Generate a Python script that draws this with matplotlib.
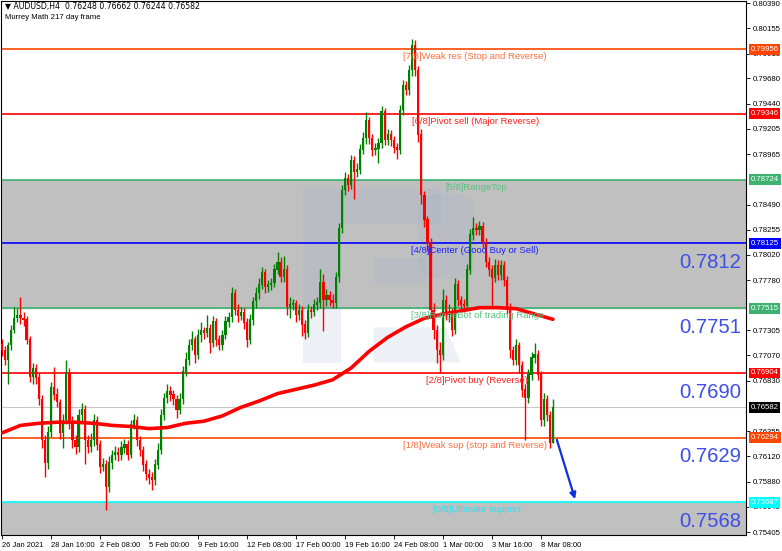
import numpy as np
import matplotlib
matplotlib.use('Agg')
from matplotlib import pyplot as plt
from matplotlib import transforms
from matplotlib.patches import Rectangle, Polygon, FancyBboxPatch

plt.rcParams['font.family'] = ['Liberation Sans', 'DejaVu Sans']

# AUDUSD H4 candles, 26 Jan 2021 .. 9 Mar 2021
first_open = 0.7718
closes = [
    0.7712, 0.7703, 0.7717, 0.7731, 0.7742, 0.7745, 0.7742, 0.7741, 0.7722, 0.7687,
    0.7695, 0.7686, 0.7666, 0.7627, 0.7606, 0.7635, 0.7677, 0.7670, 0.7663, 0.7634,
    0.7646, 0.7691, 0.7644, 0.7627, 0.7621, 0.7651, 0.7656, 0.7627, 0.7621, 0.7627,
    0.7646, 0.7623, 0.7602, 0.7604, 0.7583, 0.7606, 0.7613, 0.7616, 0.7613, 0.7620,
    0.7623, 0.7613, 0.7642, 0.7646, 0.7627, 0.7618, 0.7604, 0.7595, 0.7592, 0.7590,
    0.7604, 0.7618, 0.7651, 0.7667, 0.7673, 0.7670, 0.7666, 0.7656, 0.7666, 0.7692,
    0.7703, 0.7717, 0.7722, 0.7708, 0.7726, 0.7731, 0.7728, 0.7733, 0.7719, 0.7739,
    0.7722, 0.7717, 0.7726, 0.7739, 0.7743, 0.7766, 0.7750, 0.7744, 0.7748, 0.7738,
    0.7722, 0.7741, 0.7758, 0.7766, 0.7774, 0.7785, 0.7772, 0.7774, 0.7775, 0.7788,
    0.7795, 0.7781, 0.7788, 0.7753, 0.7755, 0.7756, 0.7745, 0.7750, 0.7736, 0.7728,
    0.7750, 0.7748, 0.7755, 0.7757, 0.7776, 0.7759, 0.7764, 0.7759, 0.7757, 0.7781,
    0.7827, 0.7863, 0.7874, 0.7868, 0.7891, 0.7880, 0.7882, 0.7901, 0.7912, 0.7929,
    0.7912, 0.7901, 0.7902, 0.7907, 0.7937, 0.7910, 0.7915, 0.7910, 0.7903, 0.7901,
    0.7938, 0.7962, 0.7957, 0.7976, 0.7999, 0.7976, 0.7915, 0.7858, 0.7835, 0.7813,
    0.7750, 0.7731, 0.7712, 0.7708, 0.7759, 0.7745, 0.7748, 0.7731, 0.7774, 0.7759,
    0.7755, 0.7754, 0.7788, 0.7821, 0.7827, 0.7825, 0.7829, 0.7813, 0.7795, 0.7788,
    0.7780, 0.7792, 0.7783, 0.7792, 0.7778, 0.7752, 0.7712, 0.7703, 0.7717, 0.7698,
    0.7675, 0.7667, 0.7689, 0.7705, 0.7708, 0.7689, 0.7646, 0.7666, 0.7651, 0.7625,
    0.76582,
]
highs = [
    0.7722, 0.7716, 0.7720, 0.7736, 0.7753, 0.7752, 0.7762, 0.7748, 0.7744, 0.7725,
    0.7700, 0.7699, 0.7690, 0.7670, 0.7632, 0.7640, 0.7682, 0.7696, 0.7676, 0.7666,
    0.7652, 0.7703, 0.7695, 0.7650, 0.7632, 0.7656, 0.7662, 0.7660, 0.7632, 0.7634,
    0.7652, 0.7650, 0.7627, 0.7610, 0.7608, 0.7612, 0.7618, 0.7622, 0.7621, 0.7626,
    0.7628, 0.7627, 0.7646, 0.7652, 0.7650, 0.7631, 0.7622, 0.7608, 0.7600, 0.7597,
    0.7609, 0.7624, 0.7656, 0.7672, 0.7680, 0.7678, 0.7674, 0.7670, 0.7672, 0.7697,
    0.7710, 0.7722, 0.7730, 0.7725, 0.7732, 0.7738, 0.7734, 0.7745, 0.7737, 0.7744,
    0.7742, 0.7726, 0.7731, 0.7744, 0.7748, 0.7771, 0.7770, 0.7755, 0.7753, 0.7752,
    0.7742, 0.7746, 0.7762, 0.7771, 0.7780, 0.7790, 0.7788, 0.7778, 0.7780, 0.7793,
    0.7804, 0.7800, 0.7801, 0.7792, 0.7762, 0.7760, 0.7759, 0.7755, 0.7754, 0.7740,
    0.7755, 0.7754, 0.7760, 0.7762, 0.7788, 0.7784, 0.7770, 0.7768, 0.7765, 0.7786,
    0.7832, 0.7868, 0.7880, 0.7878, 0.7896, 0.7895, 0.7888, 0.7906, 0.7918, 0.7936,
    0.7932, 0.7916, 0.7907, 0.7912, 0.7942, 0.7940, 0.7920, 0.7919, 0.7914, 0.7907,
    0.7943, 0.7967, 0.7966, 0.7981, 0.8005, 0.8004, 0.7980, 0.7920, 0.7862, 0.7838,
    0.7818, 0.7756, 0.7736, 0.7720, 0.7770, 0.7764, 0.7755, 0.7752, 0.7780, 0.7778,
    0.7763, 0.7760, 0.7793, 0.7826, 0.7837, 0.7832, 0.7834, 0.7833, 0.7818, 0.7800,
    0.7792, 0.7798, 0.7797, 0.7797, 0.7796, 0.7782, 0.7756, 0.7716, 0.7722, 0.7720,
    0.7702, 0.7680, 0.7694, 0.7710, 0.7719, 0.7712, 0.7692, 0.7672, 0.7670, 0.7655,
    0.76662,
]
lows = [
    0.7706, 0.7698, 0.7680, 0.7712, 0.7728, 0.7738, 0.7737, 0.7735, 0.7718, 0.7682,
    0.7680, 0.7680, 0.7660, 0.7620, 0.7592, 0.7600, 0.7630, 0.7665, 0.7658, 0.7628,
    0.7620, 0.7642, 0.7638, 0.7620, 0.7614, 0.7616, 0.7645, 0.7605, 0.7615, 0.7616,
    0.7622, 0.7618, 0.7596, 0.7598, 0.7561, 0.7578, 0.7600, 0.7608, 0.7607, 0.7608,
    0.7615, 0.7608, 0.7610, 0.7638, 0.7622, 0.7612, 0.7598, 0.7590, 0.7586, 0.7580,
    0.7585, 0.7600, 0.7614, 0.7646, 0.7662, 0.7664, 0.7660, 0.7648, 0.7652, 0.7661,
    0.7688, 0.7698, 0.7712, 0.7700, 0.7704, 0.7720, 0.7722, 0.7724, 0.7709, 0.7715,
    0.7716, 0.7712, 0.7712, 0.7722, 0.7734, 0.7738, 0.7745, 0.7738, 0.7740, 0.7732,
    0.7715, 0.7718, 0.7736, 0.7752, 0.7760, 0.7770, 0.7766, 0.7767, 0.7769, 0.7771,
    0.7784, 0.7776, 0.7776, 0.7745, 0.7742, 0.7750, 0.7738, 0.7740, 0.7725, 0.7722,
    0.7724, 0.7742, 0.7744, 0.7750, 0.7752, 0.7730, 0.7754, 0.7754, 0.7752, 0.7752,
    0.7776, 0.7822, 0.7858, 0.7862, 0.7864, 0.7854, 0.7875, 0.7878, 0.7897, 0.7906,
    0.7906, 0.7895, 0.7896, 0.7888, 0.7902, 0.7905, 0.7905, 0.7904, 0.7898, 0.7892,
    0.7897, 0.7934, 0.7952, 0.7952, 0.7970, 0.7970, 0.7908, 0.7850, 0.7828, 0.7805,
    0.7742, 0.7722, 0.7700, 0.7690, 0.7703, 0.7740, 0.7738, 0.7725, 0.7727, 0.7754,
    0.7748, 0.7748, 0.7750, 0.7784, 0.7816, 0.7820, 0.7820, 0.7808, 0.7790, 0.7782,
    0.7752, 0.7776, 0.7778, 0.7778, 0.7772, 0.7746, 0.7705, 0.7698, 0.7698, 0.7690,
    0.7668, 0.7627, 0.7662, 0.7684, 0.7700, 0.7684, 0.7640, 0.7640, 0.7645, 0.7620,
    0.76244,
]

# red moving average, read every 6 bars
ma_bars = list(range(0, 181, 6))
ma_vals = [
    0.7634, 0.7641, 0.7643, 0.7644, 0.7644, 0.7643, 0.7641, 0.7640, 0.7638, 0.7639,
    0.7643, 0.7645, 0.7650, 0.7658, 0.7664, 0.7671, 0.7675, 0.7679, 0.7684, 0.7695,
    0.7711, 0.7724, 0.7734, 0.7742, 0.7746, 0.7749, 0.7752, 0.7752, 0.7751, 0.7746,
    0.7741,
]

# Murrey Math levels
mm_levels = [0.79956, 0.79346, 0.78724, 0.78125, 0.77515, 0.76904, 0.76294, 0.75687]
mm_colors = ['#ff4500', '#ff0000', '#3cb371', '#0000ff', '#3cb371', '#ff0000', '#ff4500', '#00ffff']
mm_labels = ['[7/8]Weak res (Stop and Reverse)', '[6/8]Pivot sell (Major Reverse)',
             '[5/8]RangeTop', '[4/8]Center (Good Buy or Sell)',
             '[3/8]RangeBot of trading Range', '[2/8]Pivot buy (Reverse)',
             '[1/8]Weak sup (stop and Reverse)', '[0/8]Ultimate support']
mm_label_x = [0.540, 0.552, 0.597, 0.550, 0.550, 0.571, 0.540, 0.580]
mm_label_colors = ['#ff7040', '#ff2020', '#5cc080', '#2020ff', '#5cc080', '#ff2020', '#ff7040', '#30e0f0']

big_levels = [0.78125, 0.77515, 0.76904, 0.76294, 0.75687]
big_labels = ['0.7812', '0.7751', '0.7690', '0.7629', '0.7568']

# scale ticks (the ones hidden under the level boxes are left out)
yticks = [0.80390, 0.80155, 0.79915, 0.79680, 0.79440, 0.79205, 0.78965,
          0.78490, 0.78255, 0.78020, 0.77780, 0.77305, 0.77070, 0.76830,
          0.76355, 0.76120, 0.75880, 0.75645, 0.75405]
xtick_bars = list(range(0, 177, 16))
xtick_labels = ['26 Jan 2021', '28 Jan 16:00', '2 Feb 08:00', '5 Feb 00:00', '9 Feb 16:00',
                '12 Feb 08:00', '17 Feb 00:00', '19 Feb 16:00', '24 Feb 08:00',
                '1 Mar 00:00', '3 Mar 16:00', '8 Mar 08:00']

last_price = closes[-1]
arrow_from = (181, 0.7630)
arrow_to = (187.5, 0.7569)

fig = plt.figure(figsize=(7.82, 5.51), dpi=100)
ax = fig.add_axes([0.0013, 0.029, 0.9527, 0.969])
ymin, ymax = 0.75377, 0.80409
ax.set_xlim(-0.35, 243.1)
ax.set_ylim(ymin, ymax)

# grey zones
ax.axhspan(mm_levels[4], mm_levels[2], color='#c0c0c0', zorder=0)
ax.axhspan(ymin, mm_levels[7], color='#c0c0c0', zorder=0)

# faint logo watermark
wm = dict(facecolor='#9aaccc', alpha=0.17, edgecolor='none', transform=ax.transAxes, zorder=0.5)
ax.add_patch(Rectangle((0.406, 0.323), 0.050, 0.327, **wm))
ax.add_patch(Rectangle((0.456, 0.583), 0.134, 0.067, **wm))
ax.add_patch(FancyBboxPatch((0.560, 0.480), 0.075, 0.160,
                            boxstyle='round,pad=0,rounding_size=0.03', **wm))
ax.add_patch(Rectangle((0.500, 0.471), 0.070, 0.047, **wm))
ax.add_patch(Polygon([(0.500, 0.389), (0.597, 0.389), (0.617, 0.323), (0.500, 0.323)], **wm))

# level lines
for lv, c in zip(mm_levels, mm_colors):
    ax.axhline(lv, color=c, lw=1.2, zorder=1)
ax.axhline(last_price, color='#c8c8c8', lw=0.8, zorder=1)

# candles
opens = [first_open] + closes[:-1]
x = np.arange(len(closes))
o = np.array(opens)
c = np.array(closes)
up = c >= o
cols = np.where(up, '#008000', '#ff0000')
ax.vlines(x, lows, highs, colors=cols, lw=1.0, zorder=2)
ax.bar(x, np.abs(c - o) + 0.00004, bottom=np.minimum(o, c) - 0.00002, width=0.72,
       color=cols, edgecolor='none', zorder=3)

# moving average
ax.plot(ma_bars, ma_vals, color='#ff0000', lw=2.6, solid_capstyle='round', zorder=4)

# level texts
btr = transforms.blended_transform_factory(ax.transAxes, ax.transData)
for lv, lab, lx, lc in zip(mm_levels, mm_labels, mm_label_x, mm_label_colors):
    ax.annotate(lab, xy=(lx, lv), xycoords=btr, xytext=(0, -2), textcoords='offset points',
                va='top', ha='left', fontsize=6.8, color=lc, zorder=5)

for lv, lab in zip(big_levels, big_labels):
    ax.annotate(lab, xy=(0.993, lv), xycoords=btr, xytext=(0, -7), textcoords='offset points',
                va='top', ha='right', fontsize=14.6, color='#3c4fe6', zorder=5)

# forecast arrow
ax.annotate('', xy=arrow_to, xytext=arrow_from,
            arrowprops=dict(arrowstyle='-|>', color='#1030e0', lw=1.6, mutation_scale=9),
            zorder=5)

# axes
for s in ax.spines.values():
    s.set_color('#000000')
    s.set_linewidth(0.8)
ax.yaxis.tick_right()
ax.set_yticks(yticks)
ax.set_yticklabels(['%.5f' % v for v in yticks])
ax.tick_params(axis='y', length=3, width=0.6, pad=2, labelsize=5.6, colors='#000000')
ax.set_xticks(xtick_bars)
ax.set_xticklabels(xtick_labels)
ax.tick_params(axis='x', length=3, width=0.6, pad=2, labelsize=5.4)
for t in ax.get_xticklabels():
    t.set_horizontalalignment('left')

# price boxes on the right scale
box_levels = mm_levels + [last_price]
box_colors = mm_colors + ['#000000']
for lv, bc in zip(box_levels, box_colors):
    ax.annotate('%.5f' % lv, xy=(1.0, lv), xycoords=btr, xytext=(3.2, 0),
                textcoords='offset points', va='center', ha='left', fontsize=5.6,
                color='white', zorder=6, annotation_clip=False,
                bbox=dict(boxstyle='square,pad=0.25', facecolor=bc, edgecolor='none'))

# header
fig.text(0.007, 0.989, '\u25bc AUDUSD,H4  0.76248 0.76662 0.76244 0.76582',
         fontsize=5.6, va='center', ha='left', family=['DejaVu Sans'])
fig.text(0.007, 0.969, 'Murrey Math 217 day frame', fontsize=5.6, va='center', ha='left')

fig.savefig('out.png', dpi=100)
